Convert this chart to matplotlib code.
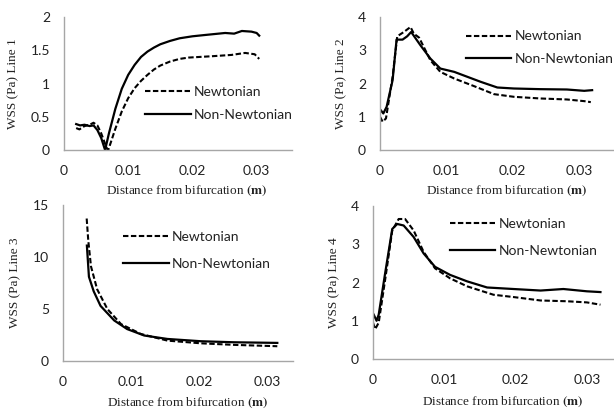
import numpy as np
import matplotlib
matplotlib.use('Agg')
import matplotlib.pyplot as plt
from matplotlib.ticker import FuncFormatter

plt.rcParams.update({
    'font.family'      : 'Lato',
    'font.size'        : 10,
    'mathtext.fontset' : 'stix',
    'figure.facecolor' : 'white',
    'axes.facecolor'   : 'white',
})

# ---- datos ----
x_ticks = [0, 0.01, 0.02, 0.03]

# Line 1
n1_x = [0.0019, 0.0024, 0.0032, 0.0040, 0.0046, 0.0052, 0.0058, 0.0063, 0.0067,
        0.0069, 0.0080, 0.0090, 0.0100, 0.0110, 0.0120, 0.0130, 0.0140, 0.0150,
        0.0165, 0.0180, 0.0194, 0.0230, 0.0261, 0.0282, 0.0297, 0.0304]
n1_y = [0.33, 0.31, 0.36, 0.38, 0.41, 0.37, 0.25, 0.12, 0.02,
        0.00, 0.32, 0.58, 0.78, 0.93, 1.04, 1.13, 1.21, 1.27,
        1.33, 1.37, 1.39, 1.41, 1.43, 1.46, 1.44, 1.37]
nn1_x = [0.0019, 0.0025, 0.0032, 0.0040, 0.0046, 0.0052, 0.0058, 0.0064, 0.0070,
         0.0080, 0.0090, 0.0100, 0.0110, 0.0120, 0.0130, 0.0140, 0.0150, 0.0165,
         0.0180, 0.0200, 0.0220, 0.0251, 0.0265, 0.0277, 0.0292, 0.0300, 0.0304]
nn1_y = [0.39, 0.37, 0.38, 0.36, 0.37, 0.30, 0.18, 0.00, 0.25,
         0.62, 0.92, 1.13, 1.28, 1.40, 1.48, 1.54, 1.59, 1.64,
         1.68, 1.71, 1.73, 1.76, 1.75, 1.79, 1.78, 1.76, 1.72]

# Line 2
n2_x = [0.0000, 0.0004, 0.0009, 0.0019, 0.0026, 0.0036, 0.0046, 0.0051, 0.0059,
        0.0076, 0.0091, 0.0112, 0.0142, 0.0172, 0.0202, 0.0242, 0.0282, 0.0308, 0.0318]
n2_y = [1.00, 0.85, 0.95, 2.20, 3.42, 3.55, 3.70, 3.50, 3.38,
        2.70, 2.35, 2.15, 1.92, 1.68, 1.60, 1.55, 1.52, 1.47, 1.44]
nn2_x = [0.0001, 0.0005, 0.0010, 0.0019, 0.0025, 0.0034, 0.0041, 0.0047, 0.0054,
         0.0061, 0.0076, 0.0091, 0.0112, 0.0132, 0.0152, 0.0177, 0.0202, 0.0242,
         0.0282, 0.0308, 0.0320]
nn2_y = [1.20, 1.10, 1.30, 2.10, 3.32, 3.32, 3.42, 3.55, 3.35,
         3.15, 2.75, 2.45, 2.35, 2.20, 2.05, 1.88, 1.85, 1.83,
         1.82, 1.78, 1.80]

# Line 3
n3_x = [0.00347, 0.0037, 0.0041, 0.0050, 0.0065, 0.0085, 0.0114, 0.0153, 0.0202,
        0.0251, 0.0314]
n3_y = [13.7, 11.6, 9.1, 6.9, 5.0, 3.55, 2.6, 1.96, 1.70, 1.55, 1.42]
nn3_x = [0.0035, 0.0038, 0.0045, 0.0055, 0.0075, 0.0094, 0.0119, 0.0153, 0.0202,
         0.0251, 0.0314]
nn3_y = [11.1, 8.1, 6.7, 5.3, 3.9, 3.07, 2.45, 2.12, 1.90, 1.80, 1.74]

# Line 4
n4_x = [0.0000, 0.0003, 0.0008, 0.0017, 0.0027, 0.0036, 0.0045, 0.0057, 0.0071,
        0.0087, 0.0108, 0.0132, 0.0169, 0.0197, 0.0235, 0.0272, 0.0300, 0.0319]
n4_y = [0.95, 0.78, 0.95, 2.07, 3.36, 3.66, 3.66, 3.36, 2.80,
        2.37, 2.11, 1.90, 1.68, 1.62, 1.53, 1.51, 1.48, 1.42]
nn4_x = [0.0001, 0.0005, 0.0008, 0.0017, 0.0027, 0.0034, 0.0043, 0.0057, 0.0071,
         0.0087, 0.0108, 0.0132, 0.0160, 0.0197, 0.0235, 0.0267, 0.0300, 0.0319]
nn4_y = [1.16, 1.00, 1.16, 2.24, 3.40, 3.53, 3.49, 3.19, 2.76,
         2.41, 2.20, 2.03, 1.87, 1.83, 1.79, 1.83, 1.77, 1.75]

SPINE = '#A6A6A6'
TXT = '#222222'


def fmt(v, _pos):
    return f'{v:g}'


def panel(fig, rect, nx, ny, nnx, nny, ylim, yticks, xmax, line,
          leg_xy, spacing, xlab_y):
    ax = fig.add_axes(rect)
    for s in ('top', 'right'):
        ax.spines[s].set_visible(False)
    for s in ('left', 'bottom'):
        ax.spines[s].set_color(SPINE)
        ax.spines[s].set_linewidth(1.0)

    ax.plot(nx, ny, color='black', lw=1.5, dashes=(2.6, 1.2), label='Newtonian')
    ax.plot(nnx, nny, color='black', lw=1.6, label='Non-Newtonian')

    ax.set_xlim(0, xmax)
    ax.set_ylim(*ylim)
    ax.set_xticks(x_ticks)
    ax.set_yticks(yticks)
    ax.xaxis.set_major_formatter(FuncFormatter(fmt))
    ax.yaxis.set_major_formatter(FuncFormatter(fmt))
    ax.tick_params(axis='both', length=0, labelsize=10, labelcolor=TXT)
    ax.tick_params(axis='x', pad=11)
    ax.tick_params(axis='y', pad=10)

    ax.set_ylabel(f'WSS (Pa) Line {line}', family='Liberation Serif',
                  fontsize=9.5, color=TXT, labelpad=8)
    ax.set_xlabel(r'Distance from bifurcation $\mathbf{(m)}$',
                  family='Liberation Serif', fontsize=9.5, color=TXT)
    ax.xaxis.set_label_coords(0.54, xlab_y)

    ax.legend(loc='center left', bbox_to_anchor=leg_xy, frameon=False,
              handlelength=3.3, handletextpad=0.2, borderpad=0,
              borderaxespad=0, labelspacing=spacing, fontsize=10,
              labelcolor=TXT)
    return ax


fig = plt.figure(figsize=(6.14, 4.12), dpi=100)

panel(fig, [0.1042, 0.6359, 0.3713, 0.3228], n1_x, n1_y, nn1_x, nn1_y,
      (0, 2), [0, 0.5, 1, 1.5, 2], 0.0355, 1, (0.355, 0.35), 0.75, -0.25)
panel(fig, [0.6189, 0.6359, 0.3811, 0.3228], n2_x, n2_y, nn2_x, nn2_y,
      (0, 4), [0, 1, 2, 3, 4], 0.0353, 2, (0.366, 0.77), 0.75, -0.25)
panel(fig, [0.1026, 0.1238, 0.3746, 0.3786], n3_x, n3_y, nn3_x, nn3_y,
      (0, 15), [0, 5, 10, 15], 0.0337, 3, (0.26, 0.71), 1.1, -0.225)
panel(fig, [0.6075, 0.1286, 0.3925, 0.3714], n4_x, n4_y, nn4_x, nn4_y,
      (0, 4), [0, 1, 2, 3, 4], 0.0338, 4, (0.318, 0.794), 1.05, -0.235)

fig.savefig('out.png', dpi=100)
